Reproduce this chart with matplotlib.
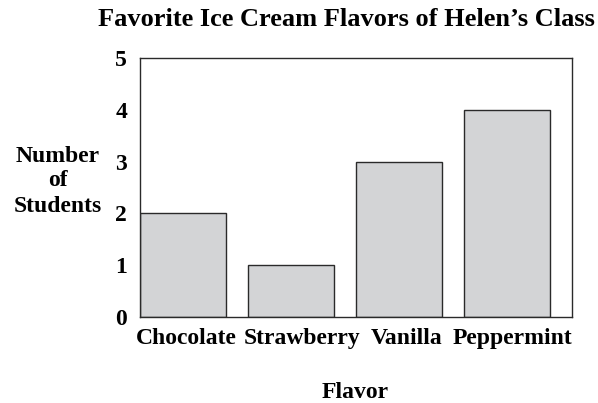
import matplotlib.pyplot as plt
import matplotlib.transforms as mtransforms
import numpy as np

# Data
flavors = ["Chocolate", "Strawberry", "Vanilla", "Peppermint"]
students = [2, 1, 3, 4]
y_ticks = [0, 1, 2, 3, 4, 5]

plt.rcParams['font.family'] = 'Liberation Serif'
plt.rcParams['font.weight'] = 'bold'

fig = plt.figure(figsize=(5.98, 4.03), dpi=100)
# axes box in pixels: left 139.5, right 572, top 58, bottom 317
ax = fig.add_axes([139.5 / 598, (403 - 317) / 403, (572 - 139.5) / 598, (317 - 58) / 403])

x = np.arange(len(flavors))
ax.bar(x, students, 0.8, color='#d3d4d6', edgecolor='#2a2a2a', linewidth=1.0)

ax.set_xlim(-0.4, 3.6)
ax.set_ylim(0, 5)
ax.set_yticks(y_ticks)
ax.set_yticklabels([str(v) for v in y_ticks], fontsize=17, fontweight='bold')
ax.set_xticks(x)
ax.set_xticklabels(flavors, fontsize=17, fontweight='bold')
ax.tick_params(length=0)
ax.tick_params(axis='y', pad=9)
ax.tick_params(axis='x', pad=8)
for s in ax.spines.values():
    s.set_color('#2a2a2a')
    s.set_linewidth(1.0)

# the labels sit as one text row, slightly right of the bar centres
shifts = [4, 11, 8, 5]
for lab, dx in zip(ax.get_xticklabels(), shifts):
    lab.set_transform(lab.get_transform() + mtransforms.ScaledTranslation(dx / 100, 0, fig.dpi_scale_trans))

fig.text(346 / 598, 1 - 19 / 403, "Favorite Ice Cream Flavors of Helen\u2019s Class",
         ha='center', va='center', fontsize=19, fontweight='bold')
fig.text(57.5 / 598, 1 - 181 / 403, "Number\nof\nStudents", ha='center', va='center',
         fontsize=17, fontweight='bold', linespacing=1.25)
fig.text(355 / 598, 1 - 392 / 403, "Flavor", ha='center', va='center',
         fontsize=17, fontweight='bold')

plt.savefig('out.png', dpi=100)
